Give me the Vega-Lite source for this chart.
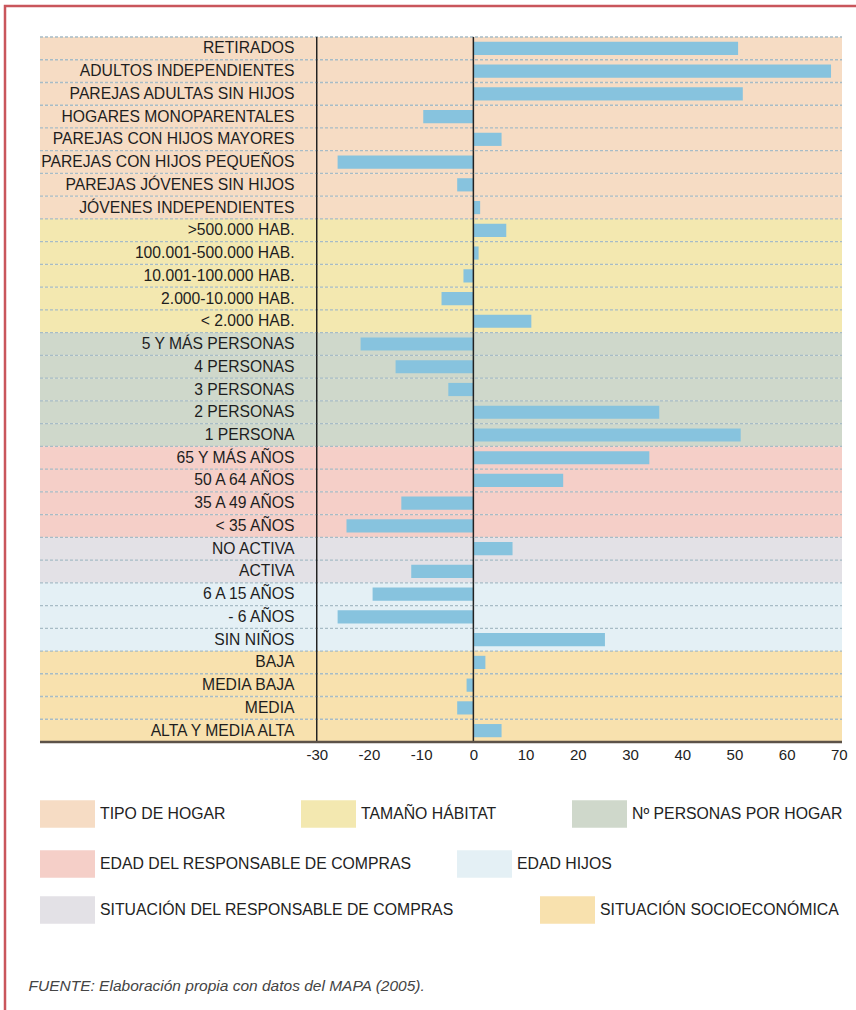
{
  "$schema": "https://vega.github.io/schema/vega-lite/v6.json",
  "width": 853,
  "height": 1006,
  "padding": {"left": 5, "top": 6, "right": 0, "bottom": 0},
  "autosize": {"type": "pad"},
  "background": "white",
  "config": {"view": {"stroke": "#c9565c", "strokeWidth": 2.5, "fill": "white"}, "font": "Liberation Sans"},
  "data": {
    "values": [
      {"cat": "RETIRADOS", "group": "TIPO DE HOGAR", "value": 50.7},
      {"cat": "ADULTOS INDEPENDIENTES", "group": "TIPO DE HOGAR", "value": 68.5},
      {"cat": "PAREJAS ADULTAS SIN HIJOS", "group": "TIPO DE HOGAR", "value": 51.6},
      {"cat": "HOGARES MONOPARENTALES", "group": "TIPO DE HOGAR", "value": -9.6},
      {"cat": "PAREJAS CON HIJOS MAYORES", "group": "TIPO DE HOGAR", "value": 5.4},
      {"cat": "PAREJAS CON HIJOS PEQUEÑOS", "group": "TIPO DE HOGAR", "value": -26.0},
      {"cat": "PAREJAS JÓVENES SIN HIJOS", "group": "TIPO DE HOGAR", "value": -3.1},
      {"cat": "JÓVENES INDEPENDIENTES", "group": "TIPO DE HOGAR", "value": 1.3},
      {"cat": ">500.000 HAB.", "group": "TAMAÑO HÁBITAT", "value": 6.3},
      {"cat": "100.001-500.000 HAB.", "group": "TAMAÑO HÁBITAT", "value": 1.0},
      {"cat": "10.001-100.000 HAB.", "group": "TAMAÑO HÁBITAT", "value": -1.9},
      {"cat": "2.000-10.000 HAB.", "group": "TAMAÑO HÁBITAT", "value": -6.1},
      {"cat": "< 2.000 HAB.", "group": "TAMAÑO HÁBITAT", "value": 11.1},
      {"cat": "5 Y MÁS PERSONAS", "group": "Nº PERSONAS POR HOGAR", "value": -21.6},
      {"cat": "4 PERSONAS", "group": "Nº PERSONAS POR HOGAR", "value": -14.9},
      {"cat": "3 PERSONAS", "group": "Nº PERSONAS POR HOGAR", "value": -4.8},
      {"cat": "2 PERSONAS", "group": "Nº PERSONAS POR HOGAR", "value": 35.6},
      {"cat": "1 PERSONA", "group": "Nº PERSONAS POR HOGAR", "value": 51.2},
      {"cat": "65 Y MÁS AÑOS", "group": "EDAD DEL RESPONSABLE DE COMPRAS", "value": 33.7},
      {"cat": "50 A 64 AÑOS", "group": "EDAD DEL RESPONSABLE DE COMPRAS", "value": 17.2},
      {"cat": "35 A 49 AÑOS", "group": "EDAD DEL RESPONSABLE DE COMPRAS", "value": -13.8},
      {"cat": "< 35 AÑOS", "group": "EDAD DEL RESPONSABLE DE COMPRAS", "value": -24.3},
      {"cat": "NO ACTIVA", "group": "SITUACIÓN DEL RESPONSABLE DE COMPRAS", "value": 7.5},
      {"cat": "ACTIVA", "group": "SITUACIÓN DEL RESPONSABLE DE COMPRAS", "value": -11.9},
      {"cat": "6 A 15 AÑOS", "group": "EDAD HIJOS", "value": -19.3},
      {"cat": "- 6 AÑOS", "group": "EDAD HIJOS", "value": -26.0},
      {"cat": "SIN NIÑOS", "group": "EDAD HIJOS", "value": 25.2},
      {"cat": "BAJA", "group": "SITUACIÓN SOCIOECONÓMICA", "value": 2.3},
      {"cat": "MEDIA BAJA", "group": "SITUACIÓN SOCIOECONÓMICA", "value": -1.3},
      {"cat": "MEDIA", "group": "SITUACIÓN SOCIOECONÓMICA", "value": -3.1},
      {"cat": "ALTA Y MEDIA ALTA", "group": "SITUACIÓN SOCIOECONÓMICA", "value": 5.4}
    ]
  },
  "encoding": {
    "y": {
      "field": "cat",
      "type": "nominal",
      "sort": null,
      "scale": {
        "paddingInner": 0,
        "paddingOuter": 0,
        "range": [31, 736],
        "domain": ["RETIRADOS", "ADULTOS INDEPENDIENTES", "PAREJAS ADULTAS SIN HIJOS", "HOGARES MONOPARENTALES", "PAREJAS CON HIJOS MAYORES", "PAREJAS CON HIJOS PEQUEÑOS", "PAREJAS JÓVENES SIN HIJOS", "JÓVENES INDEPENDIENTES", ">500.000 HAB.", "100.001-500.000 HAB.", "10.001-100.000 HAB.", "2.000-10.000 HAB.", "< 2.000 HAB.", "5 Y MÁS PERSONAS", "4 PERSONAS", "3 PERSONAS", "2 PERSONAS", "1 PERSONA", "65 Y MÁS AÑOS", "50 A 64 AÑOS", "35 A 49 AÑOS", "< 35 AÑOS", "NO ACTIVA", "ACTIVA", "6 A 15 AÑOS", "- 6 AÑOS", "SIN NIÑOS", "BAJA", "MEDIA BAJA", "MEDIA", "ALTA Y MEDIA ALTA"]
      },
      "axis": {
        "title": null,
        "orient": "left",
        "domain": false,
        "ticks": false,
        "tickSize": 0,
        "grid": false,
        "labelPadding": -289,
        "labelAlign": "right",
        "labelFontSize": 15.7,
        "labelColor": "#1e1e1e",
        "labelLimit": 400,
        "zindex": 1
      }
    }
  },
  "layer": [
    {
      "transform": [{"filter": {"field": "group", "oneOf": ["TIPO DE HOGAR", "TAMAÑO HÁBITAT", "Nº PERSONAS POR HOGAR"]}}],
      "mark": {"type": "rect"},
      "encoding": {
        "x": {"datum": -83},
        "x2": {"datum": 70.6},
        "color": {
          "field": "group",
          "type": "nominal",
          "scale": {"domain": ["TIPO DE HOGAR", "TAMAÑO HÁBITAT", "Nº PERSONAS POR HOGAR"], "range": ["#f6dcc4", "#f3e8b0", "#cfd8cb"]},
          "legend": {
            "orient": "none", "legendX": 35, "legendY": 780, "direction": "horizontal", "title": null,
            "symbolType": "M-1,-0.5H1V0.5H-1Z", "symbolSize": 3025, "symbolStrokeWidth": 0,
            "labelFontSize": 15.8, "labelColor": "#222222", "labelOffset": 5, "labelLimit": 400,
            "gridAlign": "each", "columnPadding": 75, "padding": 0
          }
        }
      }
    },
    {
      "transform": [{"filter": {"field": "group", "oneOf": ["EDAD DEL RESPONSABLE DE COMPRAS", "EDAD HIJOS"]}}],
      "mark": {"type": "rect"},
      "encoding": {
        "x": {"datum": -83},
        "x2": {"datum": 70.6},
        "color": {
          "field": "group",
          "type": "nominal",
          "scale": {"domain": ["EDAD DEL RESPONSABLE DE COMPRAS", "EDAD HIJOS"], "range": ["#f5cfc8", "#e4f0f5"]},
          "legend": {
            "orient": "none", "legendX": 35, "legendY": 830, "direction": "horizontal", "title": null,
            "symbolType": "M-1,-0.5H1V0.5H-1Z", "symbolSize": 3025, "symbolStrokeWidth": 0,
            "labelFontSize": 15.8, "labelColor": "#222222", "labelOffset": 5, "labelLimit": 400,
            "gridAlign": "each", "columnPadding": 45, "padding": 0
          }
        }
      }
    },
    {
      "transform": [{"filter": {"field": "group", "oneOf": ["SITUACIÓN DEL RESPONSABLE DE COMPRAS", "SITUACIÓN SOCIOECONÓMICA"]}}],
      "mark": {"type": "rect"},
      "encoding": {
        "x": {"datum": -83},
        "x2": {"datum": 70.6},
        "color": {
          "field": "group",
          "type": "nominal",
          "scale": {"domain": ["SITUACIÓN DEL RESPONSABLE DE COMPRAS", "SITUACIÓN SOCIOECONÓMICA"], "range": ["#e3e1e6", "#f8e1ae"]},
          "legend": {
            "orient": "none", "legendX": 35, "legendY": 876, "direction": "horizontal", "title": null,
            "symbolType": "M-1,-0.5H1V0.5H-1Z", "symbolSize": 3025, "symbolStrokeWidth": 0,
            "labelFontSize": 15.8, "labelColor": "#222222", "labelOffset": 5, "labelLimit": 400,
            "gridAlign": "each", "columnPadding": 86, "padding": 0
          }
        }
      }
    },
    {
      "mark": {"type": "rule", "color": "#a7bcc6", "strokeDash": [3, 2], "strokeWidth": 1.3},
      "encoding": {
        "x": {"datum": -83},
        "x2": {"datum": 70.6},
        "y": {
          "field": "cat",
          "type": "nominal",
          "sort": null,
          "bandPosition": 0,
          "scale": {
            "paddingInner": 0,
            "paddingOuter": 0,
            "range": [31, 736],
            "domain": ["RETIRADOS", "ADULTOS INDEPENDIENTES", "PAREJAS ADULTAS SIN HIJOS", "HOGARES MONOPARENTALES", "PAREJAS CON HIJOS MAYORES", "PAREJAS CON HIJOS PEQUEÑOS", "PAREJAS JÓVENES SIN HIJOS", "JÓVENES INDEPENDIENTES", ">500.000 HAB.", "100.001-500.000 HAB.", "10.001-100.000 HAB.", "2.000-10.000 HAB.", "< 2.000 HAB.", "5 Y MÁS PERSONAS", "4 PERSONAS", "3 PERSONAS", "2 PERSONAS", "1 PERSONA", "65 Y MÁS AÑOS", "50 A 64 AÑOS", "35 A 49 AÑOS", "< 35 AÑOS", "NO ACTIVA", "ACTIVA", "6 A 15 AÑOS", "- 6 AÑOS", "SIN NIÑOS", "BAJA", "MEDIA BAJA", "MEDIA", "ALTA Y MEDIA ALTA"]
          },
          "axis": {
            "title": null,
            "orient": "left",
            "domain": false,
            "ticks": false,
            "tickSize": 0,
            "grid": false,
            "labelPadding": -289,
            "labelAlign": "right",
            "labelFontSize": 15.7,
            "labelColor": "#1e1e1e",
            "labelLimit": 400,
            "zindex": 1
          }
        }
      }
    },
    {
      "mark": {"type": "bar", "color": "#87c3de", "height": {"band": 0.58}},
      "encoding": {
        "x": {
          "field": "value",
          "type": "quantitative",
          "scale": {"domain": [-89.703, 73.664], "nice": false},
          "axis": {
            "values": [-30, -20, -10, 0, 10, 20, 30, 40, 50, 60, 70],
            "labelExpr": "'' + datum.value",
            "orient": "bottom",
            "offset": -270,
            "domain": false,
            "ticks": false,
            "grid": false,
            "labelFontSize": 15,
            "labelColor": "#222222",
            "labelPadding": 5,
            "zindex": 1,
            "title": "FUENTE: Elaboración propia con datos del MAPA (2005).",
            "titleX": 23,
            "titleY": 243,
            "titleAlign": "left",
            "titleBaseline": "middle",
            "titleFontStyle": "italic",
            "titleFontWeight": "normal",
            "titleFontSize": 15.5,
            "titleColor": "#444444"
          }
        },
        "x2": {"datum": 0}
      }
    },
    {
      "mark": {"type": "tick", "color": "#222222", "thickness": 1.5, "size": 23, "opacity": 1, "orient": "vertical"},
      "encoding": {"x": {"datum": -30}}
    },
    {
      "mark": {"type": "tick", "color": "#222222", "thickness": 1.5, "size": 23, "opacity": 1, "orient": "vertical"},
      "encoding": {"x": {"datum": 0}}
    },
    {
      "transform": [{"filter": {"field": "cat", "equal": "ALTA Y MEDIA ALTA"}}],
      "mark": {"type": "rule", "color": "#5c5248", "strokeWidth": 2.5},
      "encoding": {
        "x": {"datum": -83},
        "x2": {"datum": 70.6},
        "y": {
          "field": "cat",
          "type": "nominal",
          "sort": null,
          "bandPosition": 1,
          "scale": {
            "paddingInner": 0,
            "paddingOuter": 0,
            "range": [31, 736],
            "domain": ["RETIRADOS", "ADULTOS INDEPENDIENTES", "PAREJAS ADULTAS SIN HIJOS", "HOGARES MONOPARENTALES", "PAREJAS CON HIJOS MAYORES", "PAREJAS CON HIJOS PEQUEÑOS", "PAREJAS JÓVENES SIN HIJOS", "JÓVENES INDEPENDIENTES", ">500.000 HAB.", "100.001-500.000 HAB.", "10.001-100.000 HAB.", "2.000-10.000 HAB.", "< 2.000 HAB.", "5 Y MÁS PERSONAS", "4 PERSONAS", "3 PERSONAS", "2 PERSONAS", "1 PERSONA", "65 Y MÁS AÑOS", "50 A 64 AÑOS", "35 A 49 AÑOS", "< 35 AÑOS", "NO ACTIVA", "ACTIVA", "6 A 15 AÑOS", "- 6 AÑOS", "SIN NIÑOS", "BAJA", "MEDIA BAJA", "MEDIA", "ALTA Y MEDIA ALTA"]
          },
          "axis": {
            "title": null,
            "orient": "left",
            "domain": false,
            "ticks": false,
            "tickSize": 0,
            "grid": false,
            "labelPadding": -289,
            "labelAlign": "right",
            "labelFontSize": 15.7,
            "labelColor": "#1e1e1e",
            "labelLimit": 400,
            "zindex": 1
          }
        }
      }
    }
  ],
  "resolve": {"scale": {"color": "independent"}}
}
